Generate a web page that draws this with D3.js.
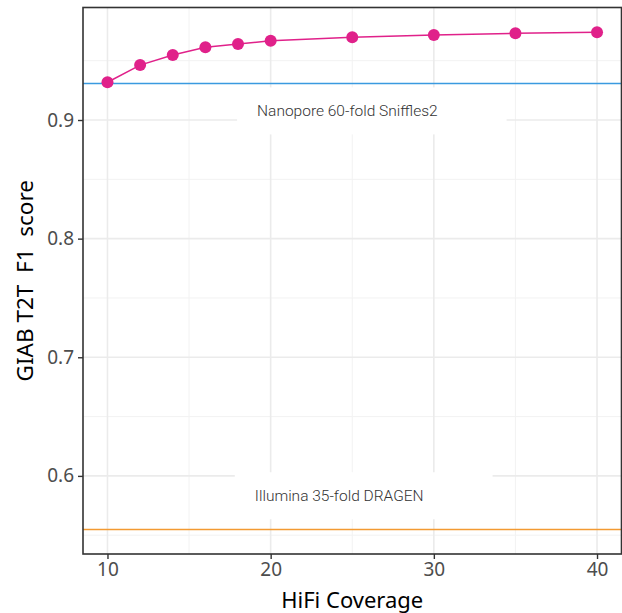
<!DOCTYPE html>
<meta charset="utf-8">
<style>
body { margin: 0; background: #fff; }
.tick text { font-family: "Noto Sans", sans-serif; fill: #4d4d4d; }
.title { font-family: "Noto Sans", sans-serif; fill: #000; }
.note { font-family: Roboto, sans-serif; font-weight: 300; fill: #333; }
</style>
<svg width="622" height="613"></svg>
<script src="https://cdn.jsdelivr.net/npm/d3@7"></script>
<script>

// HiFi coverage vs F1 score
var coverage = [10, 12, 14, 16, 18, 20, 25, 30, 35, 40];
var f1 = [0.9318, 0.9463, 0.9548, 0.9613, 0.9640, 0.9668, 0.9697, 0.9716, 0.9731, 0.9739];

// reference lines
var refNames = ["Nanopore 60-fold Sniffles2", "Illumina 35-fold DRAGEN"];
var refValues = [0.9309, 0.5551];
var refColors = ["#3a9ae0", "#f39a32"];
// where the label text sits (data units)
var refLabelX = [24.7, 24.2];
var refLabelY = [0.9076, 0.5832];

var xTicks = [10, 20, 30, 40];
var yTicks = [0.6, 0.7, 0.8, 0.9];
var xMinor = [15, 25, 35];
var yMinor = [0.55, 0.65, 0.75, 0.85, 0.95];

var svg = d3.select("svg");
var pLeft = 83, pRight = 621.5, pTop = 7.5, pBottom = 554;

var x = d3.scaleLinear().domain([8.5, 41.5]).range([pLeft, pRight]);
var allY = f1.concat(refValues);
var lo = d3.min(allY), hi = d3.max(allY), pad = (hi - lo) * 0.05;
var y = d3.scaleLinear().domain([lo - pad, hi + pad]).range([pBottom, pTop]);

var grid = svg.append("g");
grid.selectAll(".xmin").data(xMinor).enter().append("line")
    .attr("x1", x).attr("x2", x).attr("y1", pTop).attr("y2", pBottom)
    .attr("stroke", "#f2f2f2").attr("stroke-width", 1);
grid.selectAll(".ymin").data(yMinor).enter().append("line")
    .attr("y1", y).attr("y2", y).attr("x1", pLeft).attr("x2", pRight)
    .attr("stroke", "#f2f2f2").attr("stroke-width", 1);
grid.selectAll(".xmaj").data(xTicks).enter().append("line")
    .attr("x1", x).attr("x2", x).attr("y1", pTop).attr("y2", pBottom)
    .attr("stroke", "#ebebeb").attr("stroke-width", 1.6);
grid.selectAll(".ymaj").data(yTicks).enter().append("line")
    .attr("y1", y).attr("y2", y).attr("x1", pLeft).attr("x2", pRight)
    .attr("stroke", "#ebebeb").attr("stroke-width", 1.6);

// label boxes (white, no border) + text
var notes = svg.append("g");
refNames.forEach(function(name, i) {
  var t = notes.append("text")
      .attr("class", "note")
      .attr("x", x(refLabelX[i]))
      .attr("y", y(refLabelY[i]))
      .attr("text-anchor", "middle")
      .attr("dy", "0.35em")
      .attr("font-size", 15.5)
      .text(name);
  var bb = t.node().getBBox();
  notes.insert("rect", "text")
      .attr("x", bb.x - 20)
      .attr("y", bb.y - 15)
      .attr("width", bb.width + 89)
      .attr("height", 47)
      .attr("fill", "#fff");
});

// snap to pixel rows so the thin lines stay crisp
function crispY(d) { return Math.round(y(d) - 0.5) + 0.5; }

svg.append("g").selectAll("line").data(refValues).enter().append("line")
    .attr("x1", pLeft).attr("x2", pRight)
    .attr("y1", crispY).attr("y2", crispY)
    .attr("stroke", function(d, i) { return refColors[i]; })
    .attr("stroke-width", 1.3);

var line = d3.line()
    .x(function(d, i) { return x(coverage[i]); })
    .y(function(d) { return y(d); });

svg.append("path").datum(f1)
    .attr("d", line)
    .attr("fill", "none")
    .attr("stroke", "#e0218a")
    .attr("stroke-width", 1.5);

svg.append("g").selectAll("circle").data(f1).enter().append("circle")
    .attr("cx", function(d, i) { return x(coverage[i]); })
    .attr("cy", y)
    .attr("r", 6)
    .attr("fill", "#e0218a");

svg.append("rect")
    .attr("x", pLeft).attr("y", pTop)
    .attr("width", pRight - pLeft).attr("height", pBottom - pTop)
    .attr("fill", "none").attr("stroke", "#333").attr("stroke-width", 1.6);

var xAxis = svg.append("g")
    .attr("transform", "translate(0," + pBottom + ")")
    .call(d3.axisBottom(x).tickValues(xTicks).tickSize(5).tickPadding(4).tickFormat(d3.format("d")));
var yAxis = svg.append("g")
    .attr("transform", "translate(" + pLeft + ",0)")
    .call(d3.axisLeft(y).tickValues(yTicks).tickSize(5).tickPadding(4).tickFormat(d3.format(".1f")));
[xAxis, yAxis].forEach(function(a) {
  a.select(".domain").remove();
  a.selectAll(".tick line").attr("stroke", "#333").attr("stroke-width", 1.4);
  a.selectAll(".tick text").attr("font-size", 19);
});

svg.append("text").attr("class", "title")
    .attr("x", (pLeft + pRight) / 2).attr("y", 608)
    .attr("text-anchor", "middle").attr("font-size", 22)
    .text("HiFi Coverage");

svg.append("text").attr("class", "title")
    .attr("transform", "translate(33," + (pTop + pBottom) / 2 + ") rotate(-90)")
    .attr("text-anchor", "middle").attr("font-size", 22.5)
    .style("white-space", "pre")
    .text("GIAB T2T  F1  score");

</script>
